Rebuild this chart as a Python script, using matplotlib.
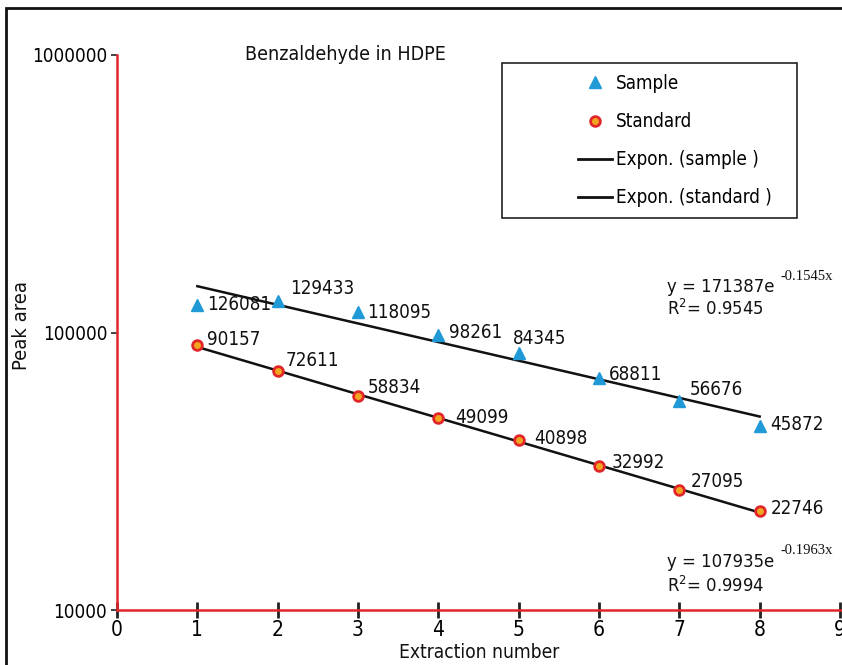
import numpy as np
import matplotlib
matplotlib.use("Agg")
import matplotlib.pyplot as plt
from matplotlib import font_manager as fm
from matplotlib.patches import Rectangle
from matplotlib.lines import Line2D

# Pick a narrow sans face for the chart text when one is available
narrow = None
for f in fm.fontManager.ttflist:
    tag = (f.name + ' ' + f.fname).lower()
    if ('narrow' in tag or 'condensed' in tag or f.stretch in ('condensed', 'semi-condensed')) \
            and 'serif' not in f.name.lower() and 'mono' not in tag \
            and f.weight in (400, 'normal', 'regular') and f.style == 'normal':
        if narrow is None or 'liberation' in tag:
            narrow = f
if narrow is not None:
    plt.rcParams['font.family'] = [narrow.name, 'DejaVu Sans']
    plt.rcParams['font.stretch'] = narrow.stretch
    SCALE = 1.0
else:
    plt.rcParams['font.family'] = ['DejaVu Sans']
    SCALE = 0.8

# Extraction data (peak areas)
extraction = [1, 2, 3, 4, 5, 6, 7, 8]
sample_area = [126081, 129433, 118095, 98261, 84345, 68811, 56676, 45872]
standard_area = [90157, 72611, 58834, 49099, 40898, 32992, 27095, 22746]

# Exponential trend fits: y = a * exp(b x), with R^2
sample_fit = (171387, -0.1545, 0.9545)
standard_fit = (107935, -0.1963, 0.9994)

x_ticks = [0, 1, 2, 3, 4, 5, 6, 7, 8, 9]
y_ticks = [10000, 100000, 1000000]

RED = '#e0262b'
BLUE = '#1f9ad6'
ORANGE = '#f2a51e'
INK = '#111111'

W, H = 842, 665
fig = plt.figure(figsize=(W / 100, H / 100), dpi=100)

def fx(px):
    return px / W

def fy(py):
    return 1 - py / H

def fs(v):
    return v * SCALE

ax = fig.add_axes([fx(117), fy(610), fx(842) - fx(117), fy(55) - fy(610)])
ax.set_yscale('log')
ax.set_xlim(0, 9.025)
ax.set_ylim(10000, 1000000)

for s in ['top', 'right']:
    ax.spines[s].set_visible(False)
for s in ['left', 'bottom']:
    ax.spines[s].set_color(RED)
    ax.spines[s].set_linewidth(1.8)

ax.set_xticks(x_ticks)
ax.set_xticklabels([str(v) for v in x_ticks])
ax.set_yticks(y_ticks)
ax.set_yticklabels([str(v) for v in y_ticks])
ax.yaxis.set_minor_locator(matplotlib.ticker.NullLocator())
ax.tick_params(axis='x', direction='inout', length=12, width=2, color='#222222',
               labelsize=fs(15), pad=1)
ax.tick_params(axis='y', direction='out', length=4, width=1.2, color='#222222',
               labelsize=fs(13.5), pad=3)

# Trend lines
xs = np.linspace(1, 8, 50)
for a, b, _ in (sample_fit, standard_fit):
    ax.plot(xs, a * np.exp(b * xs), color=INK, lw=1.8, zorder=2)

# Data points
ax.plot(extraction, sample_area, ls='none', marker='^', ms=8, color=BLUE,
        mec=BLUE, zorder=3)
ax.plot(extraction, standard_area, ls='none', marker='o', ms=7, mfc=ORANGE,
        mec=RED, mew=2, zorder=3)

# Value labels (offsets in pixels: right, up)
sample_offsets = [(10, 0), (12, 13), (9, 0), (11, 2), (-6, 15), (10, 3), (10, 11), (11, 2)]
standard_offsets = [(10, 5), (8, 11), (10, 9), (17, 1), (16, 2), (13, 4), (11, 8), (11, 2)]
for vals, offs in ((sample_area, sample_offsets), (standard_area, standard_offsets)):
    for xv, yv, off in zip(extraction, vals, offs):
        ax.annotate(str(yv), (xv, yv), xytext=off, textcoords='offset pixels',
                    ha='left', va='center', fontsize=fs(13.5), color=INK)

# Fit equations
def equation(px, py, py_r2, fit):
    a, b, r2 = fit
    main = fig.text(fx(px), fy(py), f'y = {a}e', fontsize=fs(13.2), ha='left',
                    va='center', color=INK)
    ax.annotate(f'{b:.4f}x', xy=(1, 0.5), xycoords=main, xytext=(6, 11),
                textcoords='offset pixels', fontsize=10.5, ha='left',
                va='center', color=INK,
                family=['Liberation Serif', 'DejaVu Serif'],
                annotation_clip=False)
    fig.text(fx(px), fy(py_r2), f'R$^{{2}}$= {r2}', fontsize=fs(13.2),
             ha='left', va='center', color=INK)

equation(667, 287, 309, sample_fit)
equation(667, 562, 586, standard_fit)

ax.set_xlabel('Extraction number', fontsize=fs(13.8), labelpad=0, color=INK)
ax.xaxis.set_label_coords(0.5, -0.06)
fig.text(fx(22), fy(326), 'Peak area', rotation=90, fontsize=fs(14.5),
         ha='center', va='center', color=INK)
fig.text(fx(245), fy(55), 'Benzaldehyde in HDPE', fontsize=fs(14),
         ha='left', va='center', color=INK)

# Legend
fig.patches.append(Rectangle((fx(502), fy(218)), fx(797) - fx(502),
                             fy(63) - fy(218), transform=fig.transFigure,
                             fill=False, ec='#222222', lw=1.2))
handles = [
    Line2D([], [], ls='none', marker='^', ms=8, color=BLUE),
    Line2D([], [], ls='none', marker='o', ms=7, mfc=ORANGE, mec=RED, mew=2),
    Line2D([], [], color=INK, lw=2),
    Line2D([], [], color=INK, lw=2),
]
labels = ['Sample', 'Standard', 'Expon. (sample )', 'Expon. (standard )']
fig.legend(handles, labels, loc='upper left',
           bbox_to_anchor=(fx(578), fy(74)), frameon=False, fontsize=fs(13.5),
           handlelength=1.83, handletextpad=0.2, labelspacing=1.02,
           borderpad=0, borderaxespad=0)

# Outer frame
fig.patches.append(Rectangle((fx(6), -0.05), 1.2, fy(8) + 0.05,
                             transform=fig.transFigure, fill=False,
                             ec=INK, lw=2))

fig.savefig('out.png', dpi=100)
